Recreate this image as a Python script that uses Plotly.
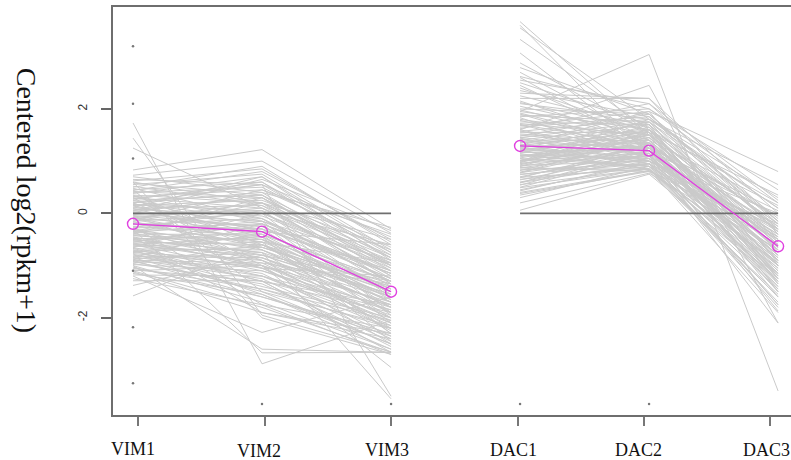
import plotly.graph_objects as go

# ---------------- data ----------------
categories = ["VIM1", "VIM2", "VIM3", "DAC1", "DAC2", "DAC3"]

# VIM gene traces (centered log2(rpkm+1)) at VIM1, VIM2, VIM3
vim1 = [1.73, 1.44, 1.25, 0.83, 0.73, 0.62, 0.55, 0.50, 0.45, 0.42, 0.40, 0.38, 0.35, 0.32, 0.30,
        0.28, 0.25, 0.22, 0.20, 0.18, 0.15, 0.12, 0.10, 0.08, 0.05, 0.03, 0.00, -0.02, -0.05, -0.08,
        -0.10, -0.12, -0.15, -0.18, -0.20, -0.22, -0.25, -0.28, -0.30, -0.32, -0.35, -0.38, -0.40,
        -0.42, -0.45, -0.48, -0.50, -0.52, -0.55, -0.58, -0.60, -0.62, -0.65, -0.68, -0.70, -0.72,
        -0.75, -0.78, -0.80, -0.82, -0.85, -0.88, -0.90, -0.93, -0.96, -1.00, -1.05, -1.10, -1.15,
        -1.20, -1.25, -1.29, -1.38, -1.58, -0.30, 0.60, -0.50, 0.20, 0.60, 0.48, 0.35, 0.20, -0.05,
        -0.15, -0.35, -0.55, -0.75, -0.95, -1.10, 0.70, 0.05, -0.45, -0.25, 0.45, -0.65, -0.85,
        0.15, -1.00, 0.30,
        0.65, 0.52, 0.44, 0.33, 0.27, 0.17, 0.09, 0.02, -0.04, -0.11, -0.16, -0.21, -0.27, -0.33,
        -0.37, -0.43, -0.47, -0.53, -0.57, -0.63, -0.67, -0.73, -0.77, -0.83, -0.87, -0.92, -0.98,
        -1.03, -1.08, -1.18, 0.58, 0.12, -0.08, -0.30, -0.60, -0.70, -0.90, -1.12, 0.25, -0.40]
vim2 = [-2.88, -1.95, 0.10, 1.22, 1.00, 0.85, 0.75, 0.90, 0.60, 0.30, 0.50, 0.70, 0.20, 0.45, 0.10,
        0.55, 0.35, 0.00, 0.40, -0.10, 0.25, -0.20, 0.15, -0.05, 0.30, -0.30, 0.05, -0.15, -0.40, 0.10,
        -0.25, -0.50, 0.00, -0.35, -0.60, -0.10, -0.45, -0.20, -0.70, -0.30, -0.55, -0.85, -0.40,
        -0.65, -0.90, -0.50, -0.75, -1.00, -0.60, -0.95, -1.10, -0.80, -1.20, -0.70, -1.05, -1.30,
        -0.90, -1.40, -1.15, -0.85, -1.50, -1.25, -1.60, -1.00, -1.35, -1.70, -1.45, -1.80, -1.55,
        -2.28, -1.75, -1.29, -0.80, -0.60, -2.67, -2.00, -0.75, 0.55, 0.20, -0.10, -0.60, -0.70, -0.90,
        0.45, 0.20, -0.20, -0.40, -0.60, -1.00, 0.40, 0.65, -1.90, -1.75, -1.50, 0.00, -0.20,
        -0.40, -2.60, -1.00,
        0.55, 0.15, 0.80, -0.15, 0.60, 0.05, -0.45, 0.35, -0.25, 0.20, -0.65, -0.30, 0.05, -0.80,
        -0.15, -0.50, -1.05, -0.35, -0.85, -0.55, -1.30, -0.65, -1.00, -1.20, -0.75, -1.45, -1.10,
        -1.60, -1.30, -1.20, 0.35, 0.70, -0.55, -1.05, -0.45, -1.55, -0.95, -1.90, -0.35, 0.30]
vim3 = [-2.05, -2.65, -0.90, -0.30, -0.38, -0.55, -0.70, -0.60, -0.80, -0.95, -0.75, -0.90, -1.00,
        -0.65, -1.10, -0.85, -1.20, -0.95, -1.05, -1.30, -0.70, -1.15, -1.25, -1.00, -1.35, -1.10,
        -1.40, -0.90, -1.30, -1.20, -1.45, -1.60, -1.05, -1.50, -1.35, -1.55, -1.70, -1.25, -1.60,
        -1.80, -1.45, -1.90, -1.65, -1.40, -1.75, -2.00, -1.55, -1.85, -1.70, -2.10, -1.95, -1.60,
        -2.20, -1.80, -2.05, -1.90, -2.25, -2.00, -2.35, -1.75, -2.15, -2.40, -2.30, -2.00, -2.45,
        -2.60, -2.20, -2.66, -2.50, -1.60, -2.70, -2.66, -1.30, -1.90, -2.66, -2.70, -3.55, -3.50,
        -0.50, -1.30, -1.70, -1.80, -2.00, -0.40, -0.80, -1.10, -1.30, -1.50, -1.70, -0.27, -0.33,
        -2.40, -2.20, -2.50, -1.90, -2.10, -2.30, -2.66, -2.95,
        -0.45, -0.85, -0.50, -1.15, -1.00, -0.60, -1.50, -0.85, -1.25, -1.35, -1.40, -1.15, -1.60,
        -1.55, -1.95, -1.30, -2.15, -1.45, -1.65, -2.30, -1.75, -1.50, -2.50, -1.85, -2.20, -2.05,
        -1.80, -2.35, -2.55, -2.10, -1.10, -0.75, -0.95, -1.20, -2.45, -2.60, -1.35, -2.30, -0.60,
        -1.00]

# DAC gene traces at DAC1, DAC2, DAC3
dac1 = [3.67, 3.60, 3.55, 3.33, 3.07, 2.79, 2.70, 2.62, 2.50, 2.45, 2.30, 2.20, 2.10, 2.05, 2.00,
        1.95, 1.60, 1.95, 1.90, 1.85, 1.80, 1.75, 1.70, 1.65, 1.60, 1.55, 1.50, 1.45, 1.42, 1.38,
        1.35, 1.32, 1.28, 1.25, 1.22, 1.20, 1.15, 1.12, 1.10, 1.05, 1.02, 1.00, 0.95, 0.92, 0.90,
        0.85, 0.82, 0.78, 0.75, 0.70, 0.65, 0.60, 0.55, 0.50, 0.45, 0.38, 0.30, 0.20, 0.06, 1.30,
        1.00, 0.90, 1.70, 1.20, 2.40, 1.48, 0.68, 1.58, 1.08, 0.88, 2.15, 1.78, 1.33, 0.58, 1.62,
        2.55, 0.98, 1.18, 2.25, 0.40,
        2.35, 2.12, 1.98, 1.88, 1.72, 1.68, 1.52, 1.46, 1.40, 1.36, 1.30, 1.26, 1.21, 1.16, 1.11,
        1.06, 1.01, 0.96, 0.93, 0.87, 0.83, 0.79, 0.74, 0.69, 0.64, 0.59, 0.54, 0.49, 0.43, 0.35,
        1.92, 1.83, 1.57, 1.44, 1.24, 1.14, 0.97, 0.77, 2.60, 2.88]
dac2 = [1.50, 1.10, 1.80, 1.60, 1.19, 1.90, 1.40, 2.00, 1.70, 1.30, 2.20, 2.20, 1.80, 1.50, 1.90,
        3.04, 2.45, 1.60, 1.20, 2.00, 1.45, 1.70, 1.30, 1.85, 1.10, 1.55, 1.25, 1.75, 1.00, 1.40,
        1.60, 1.15, 1.35, 0.95, 1.50, 1.20, 1.65, 1.05, 1.30, 0.90, 1.45, 1.15, 1.35, 1.00, 1.25,
        0.85, 1.40, 1.10, 0.95, 1.20, 0.90, 1.05, 0.85, 1.15, 0.95, 0.80, 0.90, 0.77, 0.75, 1.95,
        1.80, 1.55, 1.10, 0.85, 1.55, 1.90, 1.30, 1.00, 1.60, 0.80, 1.35, 1.20, 0.90, 1.35, 2.10,
        2.10, 1.70, 1.00, 1.65, 0.82,
        1.85, 1.60, 1.40, 1.75, 1.50, 1.95, 1.35, 1.10, 1.70, 1.25, 1.55, 1.05, 1.40, 1.25, 0.90,
        1.50, 1.30, 1.10, 1.45, 1.20, 0.95, 1.30, 1.05, 0.85, 1.15, 0.95, 1.20, 0.85, 1.00, 0.82,
        1.30, 1.05, 1.80, 0.95, 1.75, 0.85, 1.60, 1.50, 1.25, 1.55]
dac3 = [-0.20, -0.90, 0.10, -0.60, -1.10, -0.30, -0.80, 0.20, -0.50, -1.30, 0.00, -0.40, 0.30,
        -0.70, -0.20, -3.40, -2.10, -0.90, -1.00, 0.45, -0.60, -0.30, -1.20, -0.10, -0.80, -0.45,
        -1.40, 0.10, -1.00, -0.65, -0.25, -1.50, -0.70, -0.95, -0.35, -1.10, -0.55, -1.30, -0.80,
        -1.60, -0.50, -0.95, -1.20, -0.40, -0.75, -1.45, -0.85, -1.05, -0.60, -1.35, -1.70, -0.90,
        -1.25, -1.87, -1.00, -1.55, -1.15, -0.70, -1.30, 0.80, 0.55, 0.35, -2.10, -1.90, -1.00,
        -0.15, -0.30, -1.75, -1.00, -0.20, -0.55, -0.05, -0.45, -0.65, 0.25, -0.15, -1.50, 0.00,
        -1.20, -0.50,
        -0.35, -0.90, 0.15, -0.75, -0.20, -0.95, -1.15, -0.35, -1.35, 0.05, -1.00, -0.50, -1.60,
        -0.25, -0.70, -1.25, -0.05, -1.75, -0.60, -1.15, -0.30, -1.50, -0.85, -1.05, -0.40, -1.40,
        -0.80, -1.60, -0.30, -0.95, -1.45, -0.45, -0.70, -1.80, -0.15, -1.20, 0.20, -1.30, -0.65,
        -1.25]

# median profiles (magenta)
vim_median = [-0.20, -0.35, -1.50]
dac_median = [1.29, 1.20, -0.63]

# small stray dots visible in the panel (x index, y value)
dot_x = [1, 1, 1, 1, 1, 1, 2, 3, 4, 5]
dot_y = [3.20, 2.10, 1.05, -1.10, -2.18, -3.25, -3.65, -3.65, -3.65, -3.65]

y_ticks = [2, 0, -2]
y_ticktext = ["2", "0", "-2"]

# ---------------- figure ----------------
xpos = list(range(1, len(categories) + 1))
vim_x = xpos[:3]
dac_x = xpos[3:]

GRAY = "rgb(202,202,202)"
MAG = "#e040e0"


def flatten(xs, cols):
    X, Y = [], []
    for vals in zip(*cols):
        X += list(xs) + [None]
        Y += list(vals) + [None]
    return X, Y


fig = go.Figure()

vx, vy = flatten(vim_x, [vim1, vim2, vim3])
fig.add_trace(go.Scatter(x=vx, y=vy, mode="lines", line=dict(color=GRAY, width=1),
                         hoverinfo="skip", showlegend=False))
dx, dy = flatten(dac_x, [dac1, dac2, dac3])
fig.add_trace(go.Scatter(x=dx, y=dy, mode="lines", line=dict(color=GRAY, width=1),
                         hoverinfo="skip", showlegend=False))

# zero reference lines for each group
for xs in (vim_x, dac_x):
    fig.add_trace(go.Scatter(x=[xs[0], xs[-1]], y=[0, 0], mode="lines",
                             line=dict(color="#6f6f6f", width=1.6),
                             hoverinfo="skip", showlegend=False))

# median profiles
for xs, med in ((vim_x, vim_median), (dac_x, dac_median)):
    fig.add_trace(go.Scatter(x=xs, y=med, mode="lines+markers",
                             line=dict(color=MAG, width=1.3),
                             marker=dict(symbol="circle-open", size=11,
                                         color=MAG, line=dict(width=1.4, color=MAG)),
                             showlegend=False))

fig.add_trace(go.Scatter(x=dot_x, y=dot_y, mode="markers",
                         marker=dict(size=2.5, color="#777777"),
                         hoverinfo="skip", showlegend=False))

# x category labels (as annotations, serif font)
label_offsets = [0.0, -0.02, -0.03, -0.05, -0.08, -0.09]
label_y = [-0.083, -0.089, -0.085, -0.085, -0.085, -0.085]
for xi, lab, off, ly in zip(xpos, categories, label_offsets, label_y):
    fig.add_annotation(x=xi + off, y=ly, xref="x", yref="paper", text=lab,
                       showarrow=False, xanchor="center", yanchor="middle",
                       font=dict(family="Liberation Serif, Times New Roman, serif",
                                 size=18, color="#111111"))

# y-axis title
fig.add_annotation(x=-0.128, y=0.527, xref="paper", yref="paper",
                   text="Centered log2(rpkm+1)", textangle=90, showarrow=False,
                   xanchor="center", yanchor="middle",
                   font=dict(family="Liberation Serif, Times New Roman, serif",
                             size=28, color="#111111"))

tick_pos = [1.039, 2.023, 3.0, 3.984, 4.961, 5.938]

fig.update_layout(
    width=791, height=460,
    margin=dict(l=113, r=0, t=7, b=45),
    paper_bgcolor="white", plot_bgcolor="white",
    showlegend=False,
    xaxis=dict(range=[0.845, 6.10], showgrid=False, zeroline=False,
               showline=True, linecolor="#6e6e6e", linewidth=2, mirror=True,
               tickmode="array", tickvals=tick_pos, ticktext=[""] * 6,
               ticks="outside", ticklen=9, tickwidth=1.5, tickcolor="#777777",
               showticklabels=False),
    yaxis=dict(range=[-3.86, 3.95], showgrid=False, zeroline=False,
               showline=True, linecolor="#6e6e6e", linewidth=2, mirror=False,
               tickmode="array", tickvals=y_ticks, ticktext=y_ticktext,
               ticks="outside", ticklen=10, tickwidth=1.5, tickcolor="#666666",
               tickangle=-90, ticklabelstandoff=9,
               tickfont=dict(family="Liberation Sans, Arial, sans-serif", size=12,
                             color="#333333")),
)

fig.write_html("out.html",
               config={"displayModeBar": False},
               post_script="document.body.style.margin='0';document.body.style.overflow='hidden';")
